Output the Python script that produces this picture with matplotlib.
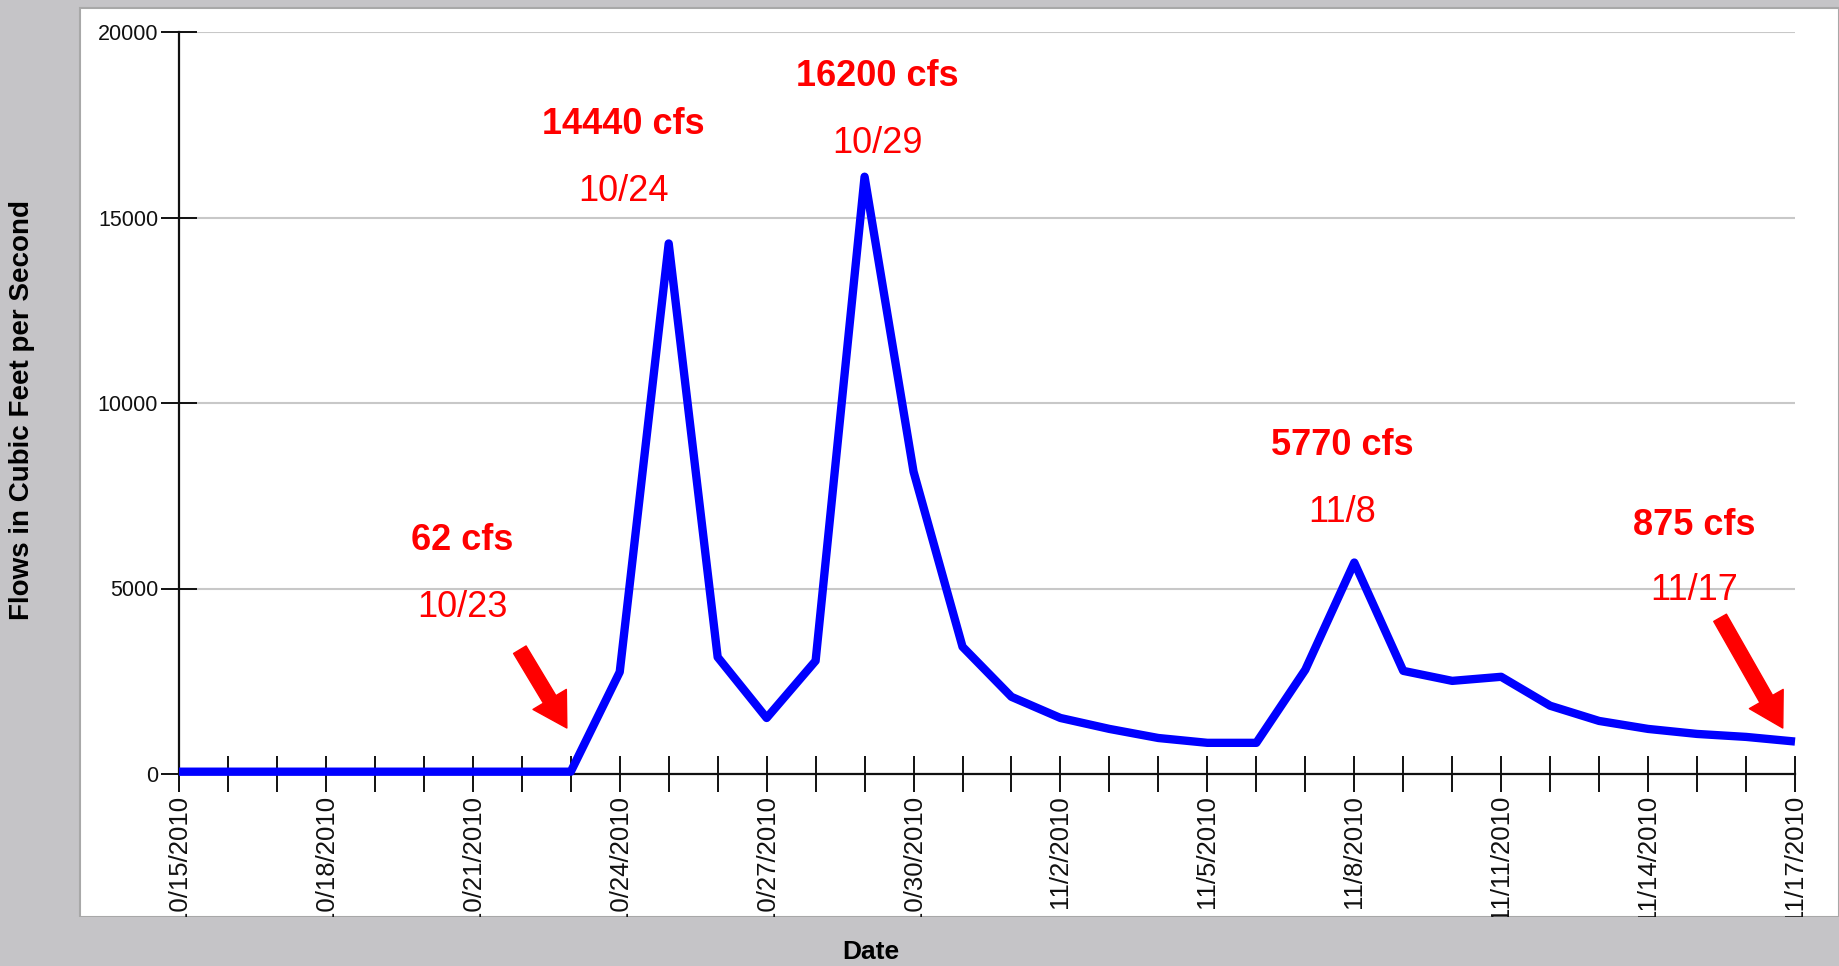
import matplotlib
matplotlib.use('Agg')
import matplotlib.pyplot as plt
from matplotlib import font_manager
from matplotlib.patches import Rectangle

plt.rcParams['font.family'] = ['Liberation Sans', 'DejaVu Sans']

# daily flows, 10/15/2010 - 11/17/2010
dates = ['10/15/2010', '10/16/2010', '10/17/2010', '10/18/2010', '10/19/2010',
         '10/20/2010', '10/21/2010', '10/22/2010', '10/23/2010', '10/24/2010',
         '10/25/2010', '10/26/2010', '10/27/2010', '10/28/2010', '10/29/2010',
         '10/30/2010', '10/31/2010', '11/1/2010', '11/2/2010', '11/3/2010',
         '11/4/2010', '11/5/2010', '11/6/2010', '11/7/2010', '11/8/2010',
         '11/9/2010', '11/10/2010', '11/11/2010', '11/12/2010', '11/13/2010',
         '11/14/2010', '11/15/2010', '11/16/2010', '11/17/2010']
flows = [62, 62, 62, 62, 62, 62, 62, 62, 62, 2750,
         14300, 3150, 1510, 3050, 16100, 8150, 3430, 2080, 1510, 1215,
         970, 840, 840, 2810, 5700, 2780, 2510, 2620, 1840, 1430,
         1215, 1080, 1000, 875]
yticks = [0, 5000, 10000, 15000, 20000]

# callouts: (bold text, date text, x, y of bold, y of date)
callouts = [
    ('62 cfs', '10/23', 5.79, 6050, 4240),
    ('14440 cfs', '10/24', 9.07, 17240, 15450),
    ('16200 cfs', '10/29', 14.27, 18540, 16740),
    ('5770 cfs', '11/8', 23.76, 8600, 6800),
    ('875 cfs', '11/17', 30.95, 6450, 4700),
]
# arrows: (tail x, tail y, tip x, tip y)
arrows = [(6.96, 3350, 7.92, 1240), (31.47, 4210, 32.75, 1240)]

W, H = 1839, 966
fig = plt.figure(figsize=(W / 100, H / 100), dpi=100)
fig.patch.set_facecolor('#c5c4c7')

# white panel behind the chart
fig.add_artist(Rectangle((80 / W, 1 - 917 / H), 1 - 80 / W, (917 - 8) / H,
                         transform=fig.transFigure, facecolor='white',
                         edgecolor='#a8a8a8', lw=1.5, zorder=-1))

ax = fig.add_axes([179 / W, 1 - 774 / H, (1795 - 179) / W, (774 - 32) / H])
ax.set_facecolor('white')

x = list(range(len(dates)))
ax.plot(x, flows, color='#0000ff', lw=6, zorder=3, clip_on=False,
        solid_joinstyle='round', solid_capstyle='butt')

ax.set_xlim(0, len(dates) - 1)
ax.set_ylim(0, 20000)

for s in ['top', 'right']:
    ax.spines[s].set_visible(False)
for s in ['left', 'bottom']:
    ax.spines[s].set_color('#111111')
    ax.spines[s].set_linewidth(1.6)

ax.set_yticks(yticks)
ytick_family = 'Liberation Sans Narrow'
if ytick_family not in {f.name for f in font_manager.fontManager.ttflist}:
    ytick_family = 'Liberation Sans'
ax.set_yticklabels([str(v) for v in yticks],
                   fontsize=18.5 if ytick_family.endswith('Narrow') else 15.5,
                   family=ytick_family, color='#111111')
ax.set_xticks(x)
ax.set_xticklabels([d if i % 3 == 0 else '' for i, d in enumerate(dates)],
                   rotation=90, fontsize=18.5, color='#111111')
ax.tick_params(axis='both', direction='inout', length=26, width=1.4, color='#111111', pad=2)
ax.grid(axis='y', color='#c8c8c8', lw=1.5)
ax.set_axisbelow(True)

for bold, day, cx, yb, yd in callouts:
    ax.text(cx, yb, bold, color='#ff0000', fontsize=26, fontweight='bold',
            ha='center', va='baseline', zorder=5)
    ax.text(cx, yd, day, color='#ff0000', fontsize=26,
            ha='center', va='baseline', zorder=5)

for x0, y0, x1, y1 in arrows:
    ax.annotate('', xy=(x1, y1), xytext=(x0, y0),
                arrowprops=dict(color='#ff0000', width=10.5, headwidth=28,
                                headlength=24, shrink=0), zorder=5)

# gray band at the bottom cuts the long date labels
fig.add_artist(Rectangle((0, 0), 1, 1 - 917 / H, transform=fig.transFigure,
                         facecolor='#c5c4c7', edgecolor='none', zorder=10))

fig.text(871 / W, 1 - 952 / H, 'Date', fontsize=19, fontweight='bold',
         ha='center', va='center', zorder=11)
fig.text(22.5 / W, 1 - 410 / H, 'Flows in Cubic Feet per Second', fontsize=20,
         fontweight='bold', rotation=90, ha='center', va='center')

fig.savefig('out.png', dpi=100, facecolor=fig.get_facecolor())
